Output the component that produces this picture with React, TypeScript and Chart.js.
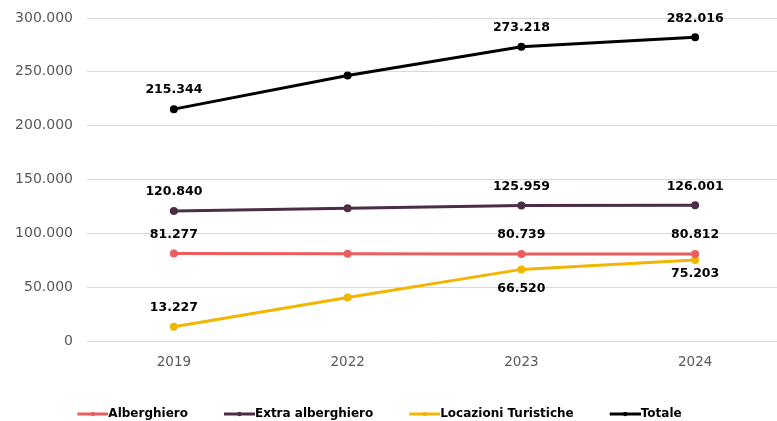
import React, { useEffect, useRef } from 'react';
import { Chart, registerables } from 'chart.js';

Chart.register(...registerables);

const categories = ['2019', '2022', '2023', '2024'];
const seriesNames = ['Alberghiero', 'Extra alberghiero', 'Locazioni Turistiche', 'Totale'];
const alberghiero = [81277, 81000, 80739, 80812];
const extraAlberghiero = [120840, 123300, 125959, 126001];
const locazioniTuristiche = [13227, 40400, 66520, 75203];
const totale = [215344, 246600, 273218, 282016];
const seriesColors = ['#EC5E5E', '#4B2E45', '#F2B500', '#000000'];
const yMax = 300000;
const yStep = 50000;
const labelledPoints = [0, 2, 3];
// label placement per series & point: 'above' or 'below'
const labelSide = [
  ['above', 'above', 'above', 'above'],
  ['above', 'above', 'above', 'above'],
  ['above', 'above', 'below', 'below'],
  ['above', 'above', 'above', 'above'],
];

const FONT = '"DejaVu Sans", sans-serif';

function fmt(v: number): string {
  const s = Math.round(v).toString();
  return s.replace(/\B(?=(\d{3})+(?!\d))/g, '.');
}

function legendImage(color: string): HTMLCanvasElement {
  const c = document.createElement('canvas');
  c.width = 71;
  c.height = 8;
  const ctx = c.getContext('2d')!;
  ctx.strokeStyle = color;
  ctx.lineWidth = 3;
  ctx.beginPath();
  ctx.moveTo(40, 4);
  ctx.lineTo(71, 4);
  ctx.stroke();
  ctx.fillStyle = color;
  ctx.beginPath();
  ctx.arc(55.5, 4, 2.2, 0, Math.PI * 2);
  ctx.fill();
  return c;
}

const dataLabelPlugin = {
  id: 'pointValueLabels',
  afterDatasetsDraw(chart: any) {
    const ctx = chart.ctx;
    ctx.save();
    ctx.font = `bold 12.5px ${FONT}`;
    ctx.fillStyle = '#000000';
    ctx.textAlign = 'center';
    ctx.textBaseline = 'middle';
    chart.data.datasets.forEach((ds: any, di: number) => {
      const meta = chart.getDatasetMeta(di);
      labelledPoints.forEach((i) => {
        const el = meta.data[i];
        if (!el) return;
        const below = labelSide[di][i] === 'below';
        const off = below ? (i === 3 ? 14 : 19) : -19;
        ctx.fillText(fmt(ds.data[i]), el.x, el.y + off);
      });
    });
    ctx.restore();
  },
};

const legendShiftPlugin = {
  id: 'legendShift',
  beforeDraw(chart: any) {
    const lg = chart.legend;
    if (lg && !lg._shifted) {
      lg.right = lg.right - 57;
      lg._shifted = true;
    }
  },
  afterUpdate(chart: any) {
    if (chart.legend) chart.legend._shifted = false;
  },
};

const W = 790;
const H = 421;

export default function App() {
  const ref = useRef<HTMLCanvasElement | null>(null);

  useEffect(() => {
    document.body.style.margin = '0';
    const allSeries = [alberghiero, extraAlberghiero, locazioniTuristiche, totale];
    const images = seriesColors.map((c) => legendImage(c));
    const chart = new Chart(ref.current!, {
      type: 'line',
      data: {
        labels: categories,
        datasets: allSeries.map((d, i) => ({
          label: seriesNames[i],
          data: d,
          borderColor: seriesColors[i],
          backgroundColor: seriesColors[i],
          borderWidth: 3,
          pointRadius: 4,
          pointBorderWidth: 0,
          pointBackgroundColor: seriesColors[i],
          tension: 0,
          fill: false,
        })),
      },
      options: {
        animation: false,
        responsive: false,
        maintainAspectRatio: false,
        layout: { autoPadding: false, padding: { top: 18, left: 0, right: 8, bottom: -9 } },
        scales: {
          x: {
            offset: true,
            grid: { display: false, drawTicks: false, offset: true },
            border: { display: false },
            ticks: { color: '#595959', font: { family: FONT, size: 13.5 }, padding: 13 },
            afterFit: (s: any) => {
              s.height = 65;
              s.paddingLeft = 0;
              s.paddingRight = 0;
            },
          },
          y: {
            min: 0,
            max: yMax,
            grid: { color: '#D9D9D9', lineWidth: 1, drawTicks: false },
            border: { display: false },
            ticks: {
              stepSize: yStep,
              color: '#595959',
              font: { family: FONT, size: 14 },
              padding: 14,
              callback: (v: any) => fmt(Number(v)),
            },
            afterFit: (s: any) => {
              s.width = 87;
              s.paddingTop = 0;
              s.paddingBottom = 0;
            },
          },
        },
        plugins: {
          tooltip: { enabled: false },
          legend: {
            position: 'bottom',
            labels: {
              usePointStyle: true,
              pointStyleWidth: 59,
              padding: 2,
              color: '#000000',
              font: { family: FONT, size: 12, weight: 'bold' },
              generateLabels: (ch: any) => {
                const items = Chart.defaults.plugins.legend.labels.generateLabels(ch);
                return items.map((it: any, i: number) => ({ ...it, pointStyle: images[i] }));
              },
            },
          },
        },
      } as any,
      plugins: [dataLabelPlugin, legendShiftPlugin],
    });
    return () => chart.destroy();
  }, []);

  return (
    <div style={{ width: 777, height: H, overflow: 'hidden' }}>
      <canvas ref={ref} width={W} height={H} style={{ display: 'block', width: W, height: H }} />
    </div>
  );
}
